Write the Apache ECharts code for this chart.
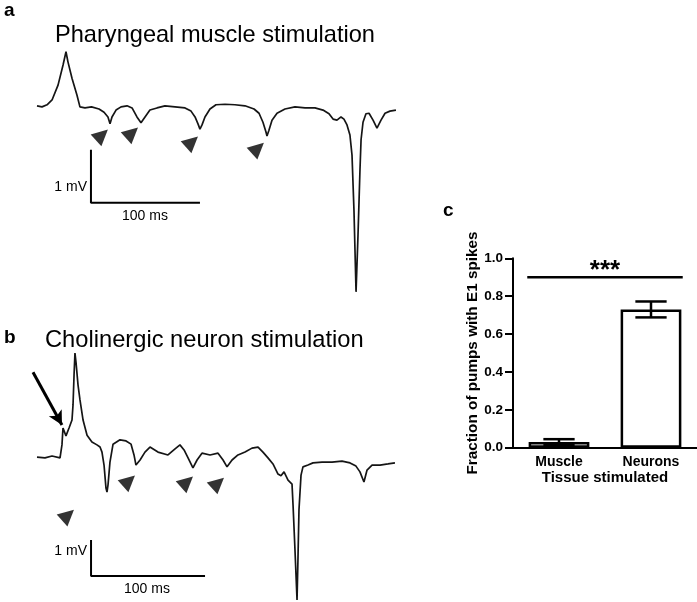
<!DOCTYPE html>
<html>
<head>
<meta charset="utf-8">
<script src="https://cdn.jsdelivr.net/npm/echarts@6/dist/echarts.min.js"></script>
<style>
html,body{margin:0;padding:0;background:#fff;}
#chart{width:697px;height:602px;}
</style>
</head>
<body>
<div id="chart"></div>
<script>
// ---------- Data ----------
// Panel a: pharyngeal muscle stimulation trace [time (ms), voltage (mV)]
const traceA = [
[0,0.06],[4.6,0.04],[9.2,0.08],[13.8,0.17],[19.3,0.45],[23.9,0.83],[26.6,1.08],[28.4,0.89],[32.1,0.58],[36.7,0.26],[39.4,0.04],
[44,0.02],[50,0.04],[56.9,0],[61.5,-0.06],[65.1,-0.15],[67.0,-0.28],[68.8,-0.15],[72.5,-0.02],[77.1,0.04],[82.6,0.06],
[87.2,0.02],[91.7,-0.15],[95.4,-0.26],[99.1,-0.15],[103.6,-0.02],[110.1,0.02],[117.4,0.06],[126.6,0.04],[135.8,0.02],
[141.3,-0.04],[145.0,-0.15],[147.7,-0.28],[149.5,-0.38],[151.4,-0.30],[154.1,-0.15],[158.7,0],[164.2,0.08],[172.5,0.09],
[181.6,0.08],[190.8,0.06],[199.1,0],[203.7,-0.08],[207.3,-0.25],[210.0,-0.43],[211.0,-0.51],[212.8,-0.40],[215.6,-0.21],
[220.2,-0.08],[227.5,0],[236.7,0.04],[245.9,0.02],[255.0,0.02],[262.4,-0.02],[267.9,-0.09],[271.6,-0.19],[275.2,-0.21],
[278.9,-0.15],[281.6,-0.19],[284.4,-0.30],[287.1,-0.49],[289.0,-0.87],[290.8,-1.91],[292.7,-3.45],[294.5,-2.38],
[296.3,-1.15],[297.3,-0.58],[299.1,-0.25],[301.8,-0.09],[304.6,-0.08],[308.3,-0.21],[311.9,-0.36],[315.6,-0.21],
[319.3,-0.08],[323.8,-0.04],[329.3,-0.02]
];
// Panel b: cholinergic neuron stimulation trace [time (ms), voltage (mV)]
const traceB = [
[0,0.08],[7.0,0.06],[13.2,0.11],[20.2,0.06],[21.9,0.42],[22.8,0.89],[25.4,0.67],[28.1,0.89],[30.7,1.11],[31.6,1.53],
[32.5,2.36],[33.3,2.97],[34.2,2.72],[36.0,2.08],[37.7,1.67],[40.4,1.11],[43.9,0.69],[48.2,0.5],[52.6,0.42],[55.3,0.36],
[57.0,0.22],[58.8,-0.14],[60.5,-0.78],[61.4,-0.89],[62.3,-0.69],[64.0,-0.06],[66.7,0.44],[72.8,0.56],[78.1,0.53],
[82.5,0.44],[85.1,0.14],[86.8,-0.14],[90.4,0],[94.7,0.22],[99.1,0.36],[106.1,0.22],[114.9,0.14],[121.1,0.31],[125.4,0.42],
[129.0,0.28],[132.5,0.06],[136.8,-0.22],[140.4,0],[144.7,0.19],[151.8,0.14],[158.8,0.19],[163.2,0],[166.7,-0.19],
[171.1,0],[176.3,0.14],[182.5,0.22],[188.6,0.33],[193.9,0.36],[198.2,0.22],[202.6,0.06],[207.0,-0.11],[211.4,-0.39],
[214.0,-0.44],[216.7,-0.33],[220.2,-0.56],[223.7,-0.67],[224.6,-1.25],[226.3,-2.5],[228.1,-3.89],[228.9,-2.78],
[229.8,-1.39],[231.6,-0.42],[233.3,-0.19],[237.7,-0.14],[242.1,-0.08],[250.0,-0.06],[258.8,-0.06],[267.5,-0.03],
[274.6,-0.08],[279.8,-0.17],[283.3,-0.33],[286.8,-0.61],[289.5,-0.28],[293.9,-0.14],[300.9,-0.14],[307.9,-0.11],[314.0,-0.08]
];
// Arrowhead marker positions [time (ms), voltage (mV)]
const arrowheadsA = [[59.6,-0.49],[87.2,-0.45],[142.2,-0.62],[202.7,-0.74]];
const arrowheadsB = [[27.2,-1.53],[80.7,-0.58],[131.6,-0.61],[158.8,-0.64]];
// Stimulus arrow in panel b (start, end) [time (ms), voltage (mV)]
const stimArrowB = [[-3.5,2.44],[21.9,0.97]];
// Scale bars: 1 mV vertical, 100 ms horizontal
const scaleBarA = [[49.5,-0.77],[49.5,-1.77],[149.5,-1.77]];
const scaleBarB = [[47.4,-2.22],[47.4,-3.22],[147.4,-3.22]];
// Panel c: bar chart
const categories = ['Muscle','Neurons'];
const means = [0.03, 0.73];
const sems = [0.015, 0.042];
const sigLevel = 0.9;
const sigText = '***';

// ---------- Chart ----------
const FONT = 'Liberation Sans, Arial, Helvetica, sans-serif';
const chart = echarts.init(document.getElementById('chart'), null, {renderer:'canvas'});

const hiddenAxis = (idx, min, max) => ({gridIndex: idx, type:'value', min, max, show:false});

const traceStyle = {color:'#151515', width:1.7};

const option = {
  backgroundColor:'#fff',
  animation:false,
  grid:[
    {left:26.1, top:40.1, width:370.6, height:259.7},
    {left:25.6, top:352, width:371.64, height:248.4},
    {left:513, right:0, top:258.3, bottom:154.3}
  ],
  xAxis:[
    hiddenAxis(0,-10,330),
    hiddenAxis(1,-10,316),
    {gridIndex:2, type:'category', data:categories,
     axisLine:{lineStyle:{color:'#000', width:2}},
     axisTick:{show:false},
     axisLabel:{color:'#000', fontFamily:FONT, fontWeight:'bold', fontSize:14, margin:7},
     name:'Tissue stimulated', nameLocation:'middle', nameGap:23,
     nameTextStyle:{color:'#000', fontFamily:FONT, fontWeight:'bold', fontSize:15}
    }
  ],
  yAxis:[
    hiddenAxis(0,-3.6,1.3),
    hiddenAxis(1,-3.9,3.0),
    {gridIndex:2, type:'value', min:0, max:1, interval:0.2,
     axisLine:{show:true, lineStyle:{color:'#000', width:2}},
     axisTick:{show:true, length:8, lineStyle:{color:'#000', width:2}},
     splitLine:{show:false},
     axisLabel:{color:'#000', fontFamily:FONT, fontWeight:'bold', fontSize:13.5, margin:10,
       formatter: v => v.toFixed(1)},
     name:'Fraction of pumps with E1 spikes', nameLocation:'middle', nameGap:31,
     nameTextStyle:{color:'#000', fontFamily:FONT, fontWeight:'bold', fontSize:15.3}
    }
  ],
  series:[
    {type:'line', xAxisIndex:0, yAxisIndex:0, data:traceA, symbol:'none', lineStyle:traceStyle, z:2},
    {type:'line', xAxisIndex:1, yAxisIndex:1, data:traceB, symbol:'none', lineStyle:traceStyle, z:2},
    {type:'scatter', xAxisIndex:0, yAxisIndex:0, data:arrowheadsA, symbol:'triangle', symbolSize:16, symbolRotate:-48,
     itemStyle:{color:'#000'}},
    {type:'scatter', xAxisIndex:1, yAxisIndex:1, data:arrowheadsB, symbol:'triangle', symbolSize:16, symbolRotate:-48,
     itemStyle:{color:'#000'}},
    {type:'line', xAxisIndex:0, yAxisIndex:0, data:scaleBarA, symbol:'none', lineStyle:{color:'#000', width:2}},
    {type:'line', xAxisIndex:1, yAxisIndex:1, data:scaleBarB, symbol:'none', lineStyle:{color:'#000', width:2}},
    {type:'line', xAxisIndex:1, yAxisIndex:1, data:[], symbol:'none',
     markLine:{silent:true, symbol:['none','arrow'], symbolSize:[11,14], label:{show:false},
       lineStyle:{color:'#000', width:3, type:'solid'},
       data:[[{coord:stimArrowB[0]},{coord:stimArrowB[1]}]]}},
    {type:'bar', xAxisIndex:2, yAxisIndex:2, data:means, barWidth:'66%',
     itemStyle:{color:'#fff', borderColor:'#000', borderWidth:2.5}, z:2},
    {type:'custom', xAxisIndex:2, yAxisIndex:2, z:3,
     data: categories.map((c,i)=>[i, means[i], sems[i]]),
     renderItem:(params, api)=>{
       const i = api.value(0), m = api.value(1), e = api.value(2);
       const hi = api.coord([i, m+e]), lo = api.coord([i, m-e]);
       const hw = api.size([1,0])[0]*0.17;
       const st = {stroke:'#000', lineWidth:2.5};
       return {type:'group', children:[
         {type:'line', shape:{x1:hi[0], y1:hi[1], x2:lo[0], y2:lo[1]}, style:st},
         {type:'line', shape:{x1:hi[0]-hw, y1:hi[1], x2:hi[0]+hw, y2:hi[1]}, style:st},
         {type:'line', shape:{x1:lo[0]-hw, y1:lo[1], x2:lo[0]+hw, y2:lo[1]}, style:st}
       ]};
     }},
    {type:'custom', xAxisIndex:2, yAxisIndex:2, z:3,
     data:[[0, 1, sigLevel]],
     renderItem:(params, api)=>{
       const a = api.coord([api.value(0), api.value(2)]);
       const b = api.coord([api.value(1), api.value(2)]);
       const off = api.size([1,0])[0]*0.345;
       return {type:'group', children:[
         {type:'line', shape:{x1:a[0]-off, y1:a[1], x2:b[0]+off, y2:b[1]}, style:{stroke:'#000', lineWidth:2.5}},
         {type:'text', x:(a[0]+b[0])/2, y:a[1]+7, style:{text:sigText, fill:'#000', font:'bold 26px '+FONT, align:'center', verticalAlign:'bottom'}}
       ]};
     }}
  ],
  graphic:[
    {type:'text', x:4, y:11, style:{text:'a', font:'bold 19px '+FONT, fill:'#000', verticalAlign:'middle'}},
    {type:'text', x:4, y:338, style:{text:'b', font:'bold 19px '+FONT, fill:'#000', verticalAlign:'middle'}},
    {type:'text', x:443, y:211, style:{text:'c', font:'bold 19px '+FONT, fill:'#000', verticalAlign:'middle'}},
    {type:'text', x:55, y:35, style:{text:'Pharyngeal muscle stimulation', font:'23.6px '+FONT, fill:'#000', verticalAlign:'middle'}},
    {type:'text', x:45, y:340, style:{text:'Cholinergic neuron stimulation', font:'23.7px '+FONT, fill:'#000', verticalAlign:'middle'}},
    {type:'text', x:87, y:187, style:{text:'1 mV', font:'14px '+FONT, fill:'#000', align:'right', verticalAlign:'middle'}},
    {type:'text', x:145, y:216, style:{text:'100 ms', font:'14px '+FONT, fill:'#000', align:'center', verticalAlign:'middle'}},
    {type:'text', x:87, y:551, style:{text:'1 mV', font:'14px '+FONT, fill:'#000', align:'right', verticalAlign:'middle'}},
    {type:'text', x:147, y:589, style:{text:'100 ms', font:'14px '+FONT, fill:'#000', align:'center', verticalAlign:'middle'}}
  ]
};
chart.setOption(option);
</script>
</body>
</html>
